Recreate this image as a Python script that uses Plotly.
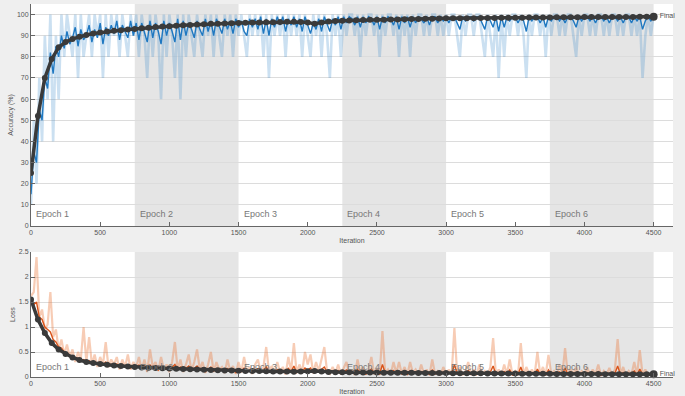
import plotly.graph_objects as go
from plotly.subplots import make_subplots

# ---------------- data ----------------
RAW_ITERS = list(range(0, 4501, 20))
TREND_ITERS = list(range(0, 4501, 50))

EPOCH_LABELS = ["Epoch 1", "Epoch 2", "Epoch 3", "Epoch 4", "Epoch 5", "Epoch 6"]
EPOCH_STARTS = [0, 750, 1500, 2250, 3000, 3750]
EPOCH_END = 4500

ACC_RAW = [
    10, 50, 20, 70, 40, 90, 60, 100, 40, 90,
    60, 100, 80, 100, 90, 80, 100, 70, 100, 80,
    90, 100, 80, 100, 90, 100, 70, 100, 80, 100,
    90, 100, 80, 100, 90, 80, 100, 90, 100, 80,
    100, 90, 70, 100, 80, 100, 90, 60, 100, 80,
    100, 90, 70, 100, 60, 100, 80, 100, 90, 80,
    100, 90, 80, 100, 90, 100, 80, 100, 90, 80,
    100, 90, 100, 80, 100, 90, 100, 90, 80, 100,
    90, 100, 90, 100, 80, 100, 70, 100, 90, 100,
    90, 100, 80, 100, 90, 100, 90, 100, 80, 100,
    90, 80, 100, 90, 100, 80, 100, 90, 70, 100,
    90, 100, 80, 100, 90, 100, 100, 90, 100, 80,
    100, 90, 100, 100, 90, 100, 80, 100, 90, 100,
    100, 90, 100, 80, 100, 90, 100, 80, 100, 90,
    100, 100, 90, 100, 90, 100, 100, 90, 100, 90,
    100, 90, 100, 100, 90, 80, 100, 90, 100, 100,
    90, 100, 100, 90, 80, 100, 90, 80, 100, 70,
    100, 80, 100, 90, 100, 100, 90, 100, 90, 70,
    100, 90, 100, 100, 90, 100, 80, 100, 90, 100,
    100, 90, 100, 90, 100, 100, 90, 80, 100, 90,
    100, 100, 90, 100, 90, 100, 100, 90, 100, 90,
    100, 100, 90, 100, 90, 100, 100, 90, 100, 90,
    100, 70, 90, 100, 90, 100,
]

ACC_SMOOTH = [
    15, 35, 30, 55, 50, 70, 65, 82, 72, 85,
    80, 90, 84, 92, 86, 89, 94, 85, 93, 88,
    90, 95, 87, 93, 89, 96, 86, 94, 90, 95,
    91, 97, 88, 95, 92, 89, 97, 90, 96, 88,
    96, 91, 87, 97, 89, 96, 92, 86, 97, 90,
    96, 92, 87, 98, 88, 97, 90, 96, 93, 89,
    97, 93, 90, 98, 92, 97, 90, 98, 94, 91,
    98, 93, 97, 91, 98, 94, 97, 92, 90, 98,
    94, 98, 93, 99, 91, 98, 90, 98, 94, 99,
    95, 99, 92, 98, 95, 99, 94, 98, 92, 99,
    95, 91, 96, 93, 98, 92, 99, 95, 92, 98,
    95, 99, 93, 99, 96, 99, 98, 95, 99, 94,
    99, 96, 99, 98, 95, 99, 93, 99, 96, 99,
    98, 95, 99, 93, 99, 96, 99, 94, 99, 96,
    99, 98, 96, 99, 95, 99, 99, 96, 99, 97,
    99, 96, 99, 99, 96, 93, 99, 97, 99, 99,
    97, 99, 99, 96, 93, 99, 97, 94, 99, 92,
    99, 94, 99, 97, 99, 99, 96, 99, 97, 92,
    99, 97, 99, 99, 96, 99, 94, 99, 97, 99,
    99, 97, 99, 96, 99, 99, 97, 94, 99, 97,
    99, 99, 97, 99, 96, 99, 99, 97, 99, 96,
    99, 99, 97, 99, 96, 99, 99, 96, 99, 97,
    99, 93, 97, 99, 97, 99,
]

ACC_TREND = [
    25, 52, 70, 79, 84.5, 87, 88.5, 89.5, 90.3, 91,
    91.5, 92, 92.3, 92.6, 92.9, 93.2, 93.5, 93.8, 94.1, 94.3,
    94.5, 94.7, 94.9, 95.1, 95.3, 95.4, 95.6, 95.7, 95.8, 95.9,
    96.0, 96.1, 96.2, 96.3, 96.4, 96.4, 96.5, 96.6, 96.6, 96.5,
    96.3, 95.6, 96.3, 96.7, 96.9, 97.1, 97.2, 97.3, 97.4, 97.5,
    97.6, 97.6, 97.7, 97.7, 97.8, 97.9, 97.9, 98.0, 98.0, 98.1,
    98.2, 98.2, 98.3, 98.3, 98.3, 98.4, 98.4, 98.4, 98.5, 98.5,
    98.5, 98.5, 98.6, 98.6, 98.6, 98.6, 98.7, 98.7, 98.7, 98.7,
    98.8, 98.8, 98.8, 98.8, 98.9, 98.9, 98.9, 98.9, 99.0, 99.0,
    99.0,
]

LOSS_RAW = [
    1.62, 1.70, 2.40, 1.20, 1.35, 0.95, 1.05, 1.70, 0.80, 0.95,
    0.55, 0.75, 0.45, 0.65, 0.40, 0.55, 0.30, 0.50, 0.35, 1.00,
    0.30, 0.80, 0.25, 0.45, 0.20, 0.40, 0.25, 0.70, 0.20, 0.35,
    0.25, 0.40, 0.15, 0.35, 0.20, 0.45, 0.15, 0.30, 0.20, 0.40,
    0.15, 0.35, 0.10, 0.55, 0.20, 0.30, 0.12, 0.40, 0.15, 0.25,
    0.10, 0.30, 0.70, 0.15, 0.35, 0.10, 0.25, 0.45, 0.12, 0.30,
    0.55, 0.15, 0.30, 0.08, 0.25, 0.50, 0.10, 0.30, 0.15, 0.20,
    0.08, 0.35, 0.12, 0.22, 0.06, 0.30, 0.10, 0.40, 0.12, 0.20,
    0.06, 0.25, 0.35, 0.10, 0.20, 0.60, 0.12, 0.22, 0.08, 0.30,
    0.10, 0.20, 0.05, 0.40, 0.12, 0.68, 0.08, 0.25, 0.10, 0.50,
    0.25, 0.45, 0.08, 0.30, 0.12, 0.35, 0.60, 0.10, 0.06, 0.20,
    0.08, 0.25, 0.05, 0.18, 0.30, 0.06, 0.15, 0.04, 0.35, 0.08,
    0.20, 0.05, 0.15, 0.40, 0.06, 0.18, 0.04, 0.92, 0.08, 0.15,
    0.05, 0.30, 0.08, 0.30, 0.06, 0.20, 0.04, 0.30, 0.08, 0.15,
    0.04, 0.25, 0.06, 0.15, 0.04, 0.35, 0.06, 0.12, 0.04, 0.20,
    0.05, 0.15, 0.04, 0.98, 0.06, 0.20, 0.04, 0.12, 0.30, 0.05,
    0.15, 0.04, 0.25, 0.06, 0.12, 0.04, 0.20, 0.78, 0.05, 0.15,
    0.04, 0.25, 0.06, 0.35, 0.04, 0.12, 0.05, 0.68, 0.04, 0.20,
    0.06, 0.15, 0.04, 0.50, 0.05, 0.20, 0.04, 0.44, 0.06, 0.12,
    0.04, 0.25, 0.05, 0.58, 0.04, 0.15, 0.06, 0.20, 0.04, 0.12,
    0.05, 0.20, 0.04, 0.15, 0.06, 0.25, 0.03, 0.12, 0.05, 0.18,
    0.04, 0.15, 0.76, 0.05, 0.20, 0.03, 0.12, 0.05, 0.30, 0.04,
    0.54, 0.05, 0.15, 0.04, 0.08, 0.05,
]

LOSS_SMOOTH = [
    1.55, 1.45, 1.50, 1.20, 1.15, 1.00, 0.95, 0.90, 0.75, 0.70,
    0.60, 0.58, 0.50, 0.48, 0.42, 0.40, 0.36, 0.38, 0.32, 0.35,
    0.30, 0.33, 0.27, 0.30, 0.25, 0.28, 0.24, 0.30, 0.22, 0.26,
    0.22, 0.26, 0.19, 0.25, 0.20, 0.24, 0.18, 0.23, 0.19, 0.24,
    0.17, 0.22, 0.15, 0.24, 0.17, 0.21, 0.14, 0.22, 0.16, 0.19,
    0.14, 0.20, 0.25, 0.15, 0.20, 0.13, 0.18, 0.22, 0.13, 0.18,
    0.22, 0.14, 0.18, 0.11, 0.16, 0.20, 0.12, 0.17, 0.13, 0.15,
    0.10, 0.17, 0.12, 0.15, 0.09, 0.16, 0.11, 0.18, 0.12, 0.14,
    0.09, 0.15, 0.17, 0.10, 0.14, 0.20, 0.11, 0.14, 0.09, 0.15,
    0.10, 0.13, 0.08, 0.17, 0.11, 0.22, 0.09, 0.14, 0.10, 0.18,
    0.14, 0.18, 0.09, 0.15, 0.11, 0.16, 0.20, 0.10, 0.08, 0.12,
    0.08, 0.13, 0.07, 0.11, 0.14, 0.07, 0.10, 0.06, 0.15, 0.08,
    0.11, 0.06, 0.10, 0.16, 0.07, 0.10, 0.06, 0.25, 0.08, 0.10,
    0.06, 0.13, 0.07, 0.12, 0.06, 0.10, 0.05, 0.13, 0.07, 0.09,
    0.05, 0.11, 0.06, 0.09, 0.05, 0.14, 0.06, 0.08, 0.05, 0.10,
    0.05, 0.08, 0.05, 0.25, 0.06, 0.10, 0.05, 0.08, 0.13, 0.05,
    0.08, 0.05, 0.11, 0.06, 0.08, 0.04, 0.10, 0.22, 0.05, 0.08,
    0.04, 0.11, 0.05, 0.14, 0.04, 0.07, 0.05, 0.20, 0.04, 0.09,
    0.05, 0.08, 0.04, 0.16, 0.05, 0.09, 0.04, 0.14, 0.05, 0.07,
    0.04, 0.10, 0.05, 0.18, 0.04, 0.08, 0.05, 0.09, 0.04, 0.07,
    0.05, 0.09, 0.04, 0.08, 0.05, 0.11, 0.03, 0.07, 0.05, 0.08,
    0.04, 0.07, 0.22, 0.05, 0.09, 0.03, 0.07, 0.04, 0.12, 0.04,
    0.16, 0.05, 0.07, 0.04, 0.05, 0.04,
]

LOSS_TREND = [
    1.55, 1.15, 0.88, 0.68, 0.55, 0.46, 0.39, 0.34, 0.30, 0.28,
    0.26, 0.245, 0.23, 0.22, 0.21, 0.20, 0.19, 0.185, 0.18, 0.175,
    0.17, 0.165, 0.16, 0.155, 0.15, 0.145, 0.14, 0.135, 0.13, 0.128,
    0.125, 0.122, 0.12, 0.118, 0.115, 0.112, 0.11, 0.108, 0.106, 0.108,
    0.115, 0.12, 0.11, 0.10, 0.097, 0.095, 0.093, 0.091, 0.09, 0.089,
    0.088, 0.087, 0.086, 0.085, 0.084, 0.083, 0.082, 0.081, 0.08, 0.079,
    0.078, 0.077, 0.076, 0.075, 0.074, 0.073, 0.072, 0.071, 0.07, 0.069,
    0.068, 0.067, 0.066, 0.065, 0.064, 0.063, 0.062, 0.061, 0.06, 0.06,
    0.059, 0.058, 0.058, 0.057, 0.056, 0.056, 0.055, 0.055, 0.054, 0.054,
    0.053,
]

ACC_TICKS = [0, 10, 20, 30, 40, 50, 60, 70, 80, 90, 100]
LOSS_TICKS = [0, 0.5, 1, 1.5, 2, 2.5]
LOSS_TICKTEXT = ["0", "0.5", "1", "1.5", "2", "2.5"]
X_TICKS = [0, 500, 1000, 1500, 2000, 2500, 3000, 3500, 4000, 4500]

# ---------------- figure ----------------
DARK = "#3a3a3a"
FONT = "Liberation Sans, Arial"
TICKFONT = dict(family=FONT, size=7, color="#555555")
TITLEFONT = dict(family=FONT, size=7, color="#555555")

fig = make_subplots(rows=2, cols=1)

fig.add_trace(go.Scatter(x=RAW_ITERS, y=ACC_RAW, mode="lines",
                         line=dict(color="rgba(70,145,205,0.28)", width=2.6),
                         hoverinfo="skip"), row=1, col=1)
fig.add_trace(go.Scatter(x=RAW_ITERS, y=ACC_SMOOTH, mode="lines",
                         line=dict(color="#1f78c1", width=1.4),
                         hoverinfo="skip"), row=1, col=1)
fig.add_trace(go.Scatter(x=TREND_ITERS, y=ACC_TREND, mode="lines+markers",
                         line=dict(color=DARK, width=3.5),
                         marker=dict(color=DARK, size=6)), row=1, col=1)
fig.add_trace(go.Scatter(x=[TREND_ITERS[-1]], y=[ACC_TREND[-1]], mode="markers+text",
                         marker=dict(color=DARK, size=8), cliponaxis=False,
                         text=["Final"], textposition="middle right",
                         textfont=dict(family=FONT, size=7, color="#555555")),
              row=1, col=1)

fig.add_trace(go.Scatter(x=RAW_ITERS, y=LOSS_RAW, mode="lines",
                         line=dict(color="rgba(235,120,60,0.38)", width=2.2),
                         hoverinfo="skip"), row=2, col=1)
fig.add_trace(go.Scatter(x=RAW_ITERS, y=LOSS_SMOOTH, mode="lines",
                         line=dict(color="#d95319", width=1.4),
                         hoverinfo="skip"), row=2, col=1)
fig.add_trace(go.Scatter(x=TREND_ITERS, y=LOSS_TREND, mode="lines+markers",
                         line=dict(color=DARK, width=3.5),
                         marker=dict(color=DARK, size=6)), row=2, col=1)
fig.add_trace(go.Scatter(x=[TREND_ITERS[-1]], y=[LOSS_TREND[-1]], mode="markers+text",
                         marker=dict(color=DARK, size=8), cliponaxis=False,
                         text=["Final"], textposition="middle right",
                         textfont=dict(family=FONT, size=7, color="#555555")),
              row=2, col=1)

# epoch shading and labels
shapes = []
annotations = []
epoch_ends = EPOCH_STARTS[1:] + [EPOCH_END]
for k, (s, e, lab) in enumerate(zip(EPOCH_STARTS, epoch_ends, EPOCH_LABELS)):
    if k % 2 == 1:
        for xr, yr in (("x", "y domain"), ("x2", "y2 domain")):
            shapes.append(dict(type="rect", xref=xr, yref=yr, x0=s, x1=e, y0=0, y1=1,
                               fillcolor="#e5e5e5", line=dict(width=0), layer="below"))
    for xr, yr, yv in (("x", "y", 2.5), ("x2", "y2", 0.06)):
        annotations.append(dict(x=s, y=yv, xref=xr, yref=yr, text=lab, showarrow=False,
                                xanchor="left", yanchor="bottom", xshift=3,
                                font=dict(family=FONT, size=9, color="#777777")))

axis_common = dict(showline=True, linecolor="#666666", linewidth=1, ticks="inside",
                   ticklen=4, tickcolor="#666666", tickfont=TICKFONT, zeroline=False,
                   mirror=False, automargin=False)

fig.update_layout(
    width=685, height=396,
    margin=dict(l=31, r=12, t=4, b=19),
    paper_bgcolor="#efefef", plot_bgcolor="#ffffff",
    showlegend=False,
    shapes=shapes, annotations=annotations,
    xaxis=dict(domain=[0, 1], range=[0, 4640], tickvals=X_TICKS, showgrid=False,
               title=dict(text="Iteration", font=TITLEFONT, standoff=2),
               anchor="y", **axis_common),
    yaxis=dict(domain=[0.405, 1.0], range=[0, 105], tickvals=ACC_TICKS, showgrid=True,
               gridcolor="#dcdcdc", gridwidth=1,
               title=dict(text="Accuracy (%)", font=TITLEFONT, standoff=2),
               anchor="x", **axis_common),
    xaxis2=dict(domain=[0, 1], range=[0, 4640], tickvals=X_TICKS, showgrid=False,
                title=dict(text="Iteration", font=TITLEFONT, standoff=2),
                anchor="y2", **axis_common),
    yaxis2=dict(domain=[0, 0.335], range=[0, 2.5], tickvals=LOSS_TICKS, ticktext=LOSS_TICKTEXT,
                showgrid=True, gridcolor="#dcdcdc", gridwidth=1,
                title=dict(text="Loss", font=TITLEFONT, standoff=2),
                anchor="x2", **axis_common),
)

fig.write_html("out.html", config={"displayModeBar": False},
               post_script="document.body.style.margin='0';document.body.style.overflow='hidden';")
